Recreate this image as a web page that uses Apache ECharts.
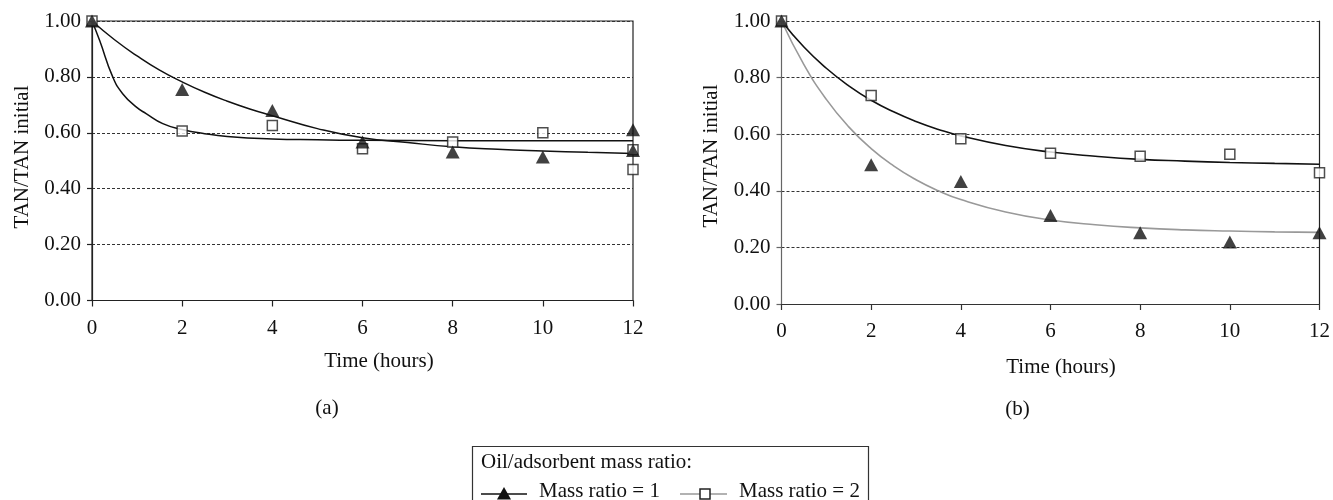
<!DOCTYPE html>
<html>
<head>
<meta charset="utf-8">
<script src="https://cdn.jsdelivr.net/npm/echarts@6/dist/echarts.min.js"></script>
<style>html,body{margin:0;padding:0;background:#fff}#c{width:1333px;height:500px}</style>
</head>
<body>
<div id="c"></div>
<script>
// ---- data ----
const xTicks = [0, 2, 4, 6, 8, 10, 12];
const yTicks = [0, 0.2, 0.4, 0.6, 0.8, 1.0];

// Panel (a)
const aTriX = [0, 2, 4, 6, 8, 10, 12, 12];
const aTriY = [1.00, 0.755, 0.68, 0.567, 0.531, 0.513, 0.611, 0.537];
const aSqX  = [0, 2, 4, 6, 8, 10, 12, 12];
const aSqY  = [1.00, 0.606, 0.626, 0.543, 0.567, 0.600, 0.539, 0.469];
const aTriCurveX = [0, 0.5, 1, 1.5, 2, 2.5, 3, 3.5, 4, 5, 6, 7, 8, 9, 10, 11, 12];
const aTriCurveY = [1.00, 0.933, 0.875, 0.824, 0.782, 0.745, 0.713, 0.685, 0.661, 0.615, 0.582, 0.565, 0.550, 0.541, 0.535, 0.530, 0.526];
const aSqCurveX = [0, 0.17, 0.46, 0.68, 1.0, 1.2, 1.57, 2, 2.5, 3, 4, 5, 6, 8, 10, 12];
const aSqCurveY = [1.00, 0.93, 0.80, 0.74, 0.69, 0.669, 0.633, 0.612, 0.597, 0.587, 0.578, 0.575, 0.573, 0.572, 0.572, 0.572];

// Panel (b)
const bSqX = [0, 2, 4, 6, 8, 10, 12];
const bSqY = [1.00, 0.737, 0.584, 0.533, 0.522, 0.529, 0.464];
const bTriX = [0, 2, 4, 6, 8, 10, 12];
const bTriY = [1.00, 0.492, 0.433, 0.313, 0.252, 0.219, 0.252];
const bSqCurveX = [0, 0.5, 1, 1.5, 2, 2.5, 3, 3.5, 4, 5, 6, 7, 8, 9, 10, 11, 12];
const bSqCurveY = [1.00, 0.908, 0.833, 0.771, 0.720, 0.679, 0.645, 0.617, 0.594, 0.560, 0.537, 0.522, 0.511, 0.505, 0.500, 0.497, 0.494];
const bTriCurveX = [0, 0.5, 1, 1.5, 2, 2.5, 3, 3.5, 4, 5, 6, 7, 8, 9, 10, 11, 12];
const bTriCurveY = [1.00, 0.846, 0.723, 0.626, 0.549, 0.488, 0.439, 0.400, 0.369, 0.325, 0.297, 0.280, 0.269, 0.262, 0.258, 0.255, 0.253];

const xTitle = 'Time (hours)';
const yTitle = 'TAN/TAN initial';
const legendTitle = 'Oil/adsorbent mass ratio:';
const legendNames = ['Mass ratio = 1', 'Mass ratio = 2'];
const panelLabels = ['(a)', '(b)'];

// ---- build ----
const pair = (xs, ys) => xs.map((x, i) => [x, ys[i]]);
const FONT = 'Liberation Serif';
const FS = 21;
const TXT = '#111';
const fontStr = FS + 'px "' + FONT + '"';

function xAxisFor(gi, lineColor) {
  return {
    type: 'value', gridIndex: gi, min: xTicks[0], max: xTicks[xTicks.length - 1],
    interval: xTicks[1] - xTicks[0],
    axisLine: { show: true, lineStyle: { color: lineColor, width: 1.2 } },
    axisTick: { show: true, length: 6, lineStyle: { color: lineColor, width: 1.2 } },
    axisLabel: { margin: 17, color: TXT, fontFamily: FONT, fontSize: FS },
    splitLine: { show: false }
  };
}
function yAxisFor(gi, lineColor) {
  return {
    type: 'value', gridIndex: gi, min: yTicks[0], max: yTicks[yTicks.length - 1],
    interval: yTicks[1] - yTicks[0],
    axisLine: { show: true, lineStyle: { color: lineColor, width: 1.2 } },
    axisTick: { show: true, length: 5, lineStyle: { color: lineColor, width: 1.2 } },
    axisLabel: { margin: 11, color: TXT, fontFamily: FONT, fontSize: FS,
      formatter: v => v.toFixed(2) },
    splitLine: { show: true, lineStyle: { color: '#333', width: 1, type: [3, 2] } }
  };
}
function rightBorder(gi) {
  return {
    type: 'value', gridIndex: gi, position: 'right', min: 0, max: 1,
    axisLine: { show: true, lineStyle: { color: '#222', width: 1.2 } },
    axisTick: { show: false }, axisLabel: { show: false }, splitLine: { show: false }
  };
}

const triSym = { symbol: 'triangle', symbolSize: [14, 13], itemStyle: { color: '#111' } };
const sqSym = { symbol: 'rect', symbolSize: 10, itemStyle: { color: '#fff', borderColor: '#222', borderWidth: 1.5 } };

const option = {
  animation: false,
  backgroundColor: '#fff',
  grid: [
    { left: 92, right: 700, top: 21, bottom: 199.5, show: true, borderColor: '#222', borderWidth: 1.2, backgroundColor: 'transparent' },
    { left: 781.5, right: 12.3, top: 21, bottom: 196 }
  ],
  xAxis: [xAxisFor(0, '#222'), xAxisFor(1, '#333')],
  yAxis: [yAxisFor(0, '#222'), yAxisFor(1, '#666'), rightBorder(1)],
  series: [
    { type: 'line', xAxisIndex: 0, yAxisIndex: 0, data: pair(aTriCurveX, aTriCurveY), smooth: true, showSymbol: false, lineStyle: { color: '#111', width: 1.5 }, z: 2 },
    { type: 'line', xAxisIndex: 0, yAxisIndex: 0, data: pair(aSqCurveX, aSqCurveY), smooth: true, showSymbol: false, lineStyle: { color: '#111', width: 1.5 }, z: 2 },
    Object.assign({ type: 'scatter', xAxisIndex: 0, yAxisIndex: 0, data: pair(aSqX, aSqY), z: 3 }, sqSym),
    Object.assign({ type: 'scatter', xAxisIndex: 0, yAxisIndex: 0, data: pair(aTriX, aTriY), z: 4 }, triSym),

    { type: 'line', xAxisIndex: 1, yAxisIndex: 1, data: pair(bSqCurveX, bSqCurveY), smooth: true, showSymbol: false, lineStyle: { color: '#111', width: 1.6 }, z: 2 },
    { type: 'line', xAxisIndex: 1, yAxisIndex: 1, data: pair(bTriCurveX, bTriCurveY), smooth: true, showSymbol: false, lineStyle: { color: '#999', width: 1.6 }, z: 2 },
    Object.assign({ type: 'scatter', xAxisIndex: 1, yAxisIndex: 1, data: pair(bSqX, bSqY), z: 3 }, sqSym),
    Object.assign({ type: 'scatter', xAxisIndex: 1, yAxisIndex: 1, data: pair(bTriX, bTriY), z: 4 }, triSym)
  ],
  graphic: [
    { type: 'text', x: 379, y: 361, style: { text: xTitle, font: fontStr, fill: TXT, align: 'center', verticalAlign: 'middle' } },
    { type: 'text', x: 1061, y: 367, style: { text: xTitle, font: fontStr, fill: TXT, align: 'center', verticalAlign: 'middle' } },
    { type: 'text', x: 22, y: 157, rotation: Math.PI / 2, style: { text: yTitle, font: fontStr, fill: TXT, align: 'center', verticalAlign: 'middle' } },
    { type: 'text', x: 711.5, y: 156, rotation: Math.PI / 2, style: { text: yTitle, font: fontStr, fill: TXT, align: 'center', verticalAlign: 'middle' } },
    { type: 'text', x: 327, y: 408, style: { text: panelLabels[0], font: fontStr, fill: TXT, align: 'center', verticalAlign: 'middle' } },
    { type: 'text', x: 1017.5, y: 409, style: { text: panelLabels[1], font: fontStr, fill: TXT, align: 'center', verticalAlign: 'middle' } },
    // legend box
    { type: 'rect', shape: { x: 472.5, y: 446.5, width: 396, height: 70 }, style: { fill: '#fff', stroke: '#333', lineWidth: 1.2 } },
    { type: 'text', x: 481, y: 462, style: { text: legendTitle, font: fontStr, fill: TXT, align: 'left', verticalAlign: 'middle' } },
    { type: 'line', shape: { x1: 481, y1: 494, x2: 527, y2: 494 }, style: { stroke: '#111', lineWidth: 1.5 } },
    { type: 'polygon', shape: { points: [[497, 499.5], [511, 499.5], [504, 487]] }, style: { fill: '#111' } },
    { type: 'text', x: 539, y: 491, style: { text: legendNames[0], font: fontStr, fill: TXT, align: 'left', verticalAlign: 'middle' } },
    { type: 'line', shape: { x1: 680, y1: 494, x2: 727, y2: 494 }, style: { stroke: '#999', lineWidth: 1.5 } },
    { type: 'rect', shape: { x: 700, y: 489, width: 10, height: 10 }, style: { fill: '#fff', stroke: '#222', lineWidth: 1.5 } },
    { type: 'text', x: 739, y: 491, style: { text: legendNames[1], font: fontStr, fill: TXT, align: 'left', verticalAlign: 'middle' } }
  ]
};

const chart = echarts.init(document.getElementById('c'), null, { renderer: 'canvas' });
chart.setOption(option);
</script>
</body>
</html>
